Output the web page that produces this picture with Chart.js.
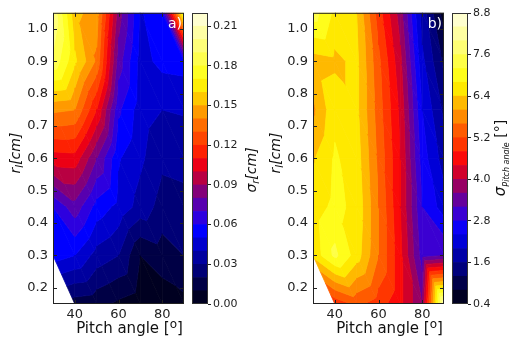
<!DOCTYPE html>
<html>
<head>
<meta charset="utf-8">
<script src="https://cdn.jsdelivr.net/npm/chart.js@4.4.0/dist/chart.umd.min.js"></script>
<style>
    html, body { margin: 0; padding: 0; background: #fff; }
    #wrap { position: relative; width: 509px; height: 337px; overflow: hidden; }
    canvas { position: absolute; top: 0; }
</style>
</head>
<body>
<div id="wrap">
    <canvas id="mapA" width="190" height="337" style="left:0px"></canvas>
    <canvas id="barA" width="75" height="337" style="left:185px"></canvas>
    <canvas id="mapB" width="190" height="337" style="left:260px"></canvas>
    <canvas id="barB" width="64" height="337" style="left:445px"></canvas>
</div>
<script>
const FONT = "'DejaVu Sans', sans-serif";

// grid nodes: pitch angle [deg] x launch radius [cm]
const pitch = [30, 40, 50, 60, 70, 80, 90];
const radius = [1.05, 0.90, 0.75, 0.60, 0.45, 0.30, 0.15];   // rows below, top to bottom

// a) sigma_r [cm]
const sigmaR = [
    [0.198, 0.153, 0.145, 0.085, 0.049, 0.056, 0.178],
    [0.188, 0.162, 0.138, 0.075, 0.046, 0.053, 0.054],
    [0.142, 0.140, 0.110, 0.062, 0.045, 0.040, 0.041],
    [0.105, 0.106, 0.080, 0.051, 0.042, 0.032, 0.033],
    [0.060, 0.076, 0.056, 0.047, 0.036, 0.026, 0.027],
    [0.055, 0.050, 0.036, 0.030, 0.010, 0.015, 0.020],
    [null, 0.015, 0.013, 0.008, 0.004, 0.004, 0.007],
];

// b) sigma_pitch [deg]
const sigmaP = [
    [7.4, 6.7, 6.4, 5.0, 3.8, 1.8, 0.6],
    [6.2, 6.3, 6.5, 5.3, 4.1, 2.1, 1.1],
    [5.9, 6.7, 6.5, 5.4, 4.3, 2.4, 1.5],
    [6.35, 6.85, 6.6, 5.5, 4.4, 2.6, 1.8],
    [6.6, 6.9, 6.7, 5.6, 4.4, 2.8, 2.2],
    [6.5, 7.3, 6.6, 5.6, 4.5, 3.0, 3.2],
    [null, 4.9, 5.3, 5.0, 4.5, 3.6, 8.4],
];

const pitchTicks = [40, 60, 80];
const radiusTicks = [0.2, 0.3, 0.4, 0.5, 0.6, 0.7, 0.8, 0.9, 1.0];

const levelsA = [0, 0.01, 0.02, 0.03, 0.04, 0.05, 0.06, 0.07, 0.08, 0.09, 0.10, 0.11,
                 0.12, 0.13, 0.14, 0.15, 0.16, 0.17, 0.18, 0.19, 0.20, 0.21, 0.22];
const levelsB = [0.4, 0.8, 1.2, 1.6, 2.0, 2.4, 2.8, 3.2, 3.6, 4.0, 4.4, 4.8,
                 5.2, 5.6, 6.0, 6.4, 6.8, 7.2, 7.6, 8.0, 8.4, 8.8];
const barTicksA = [0, 0.03, 0.06, 0.09, 0.12, 0.15, 0.18, 0.21];
const barTicksB = [0.4, 1.6, 2.8, 4.0, 5.2, 6.4, 7.6, 8.8];

// black -> blue -> red -> yellow -> white
const cmapStops = [
    [0.00, [0, 0, 15]],
    [0.07, [0, 0, 70]],
    [0.115, [0, 0, 120]],
    [0.16, [0, 0, 160]],
    [0.205, [0, 0, 205]],
    [0.25, [0, 0, 255]],
    [0.30, [50, 0, 220]],
    [0.35, [95, 0, 165]],
    [0.40, [145, 0, 105]],
    [0.445, [200, 0, 50]],
    [0.49, [250, 0, 10]],
    [0.53, [255, 40, 0]],
    [0.60, [255, 95, 0]],
    [0.645, [255, 140, 0]],
    [0.69, [255, 185, 0]],
    [0.74, [255, 235, 0]],
    [0.79, [255, 255, 30]],
    [1.00, [255, 255, 230]],
];

function cmap(t) {
    for (let i = 1; i < cmapStops.length; i++) {
        const [t1, c1] = cmapStops[i];
        if (t <= t1) {
            const [t0, c0] = cmapStops[i - 1];
            const f = (t - t0) / (t1 - t0);
            const c = c0.map((v, k) => Math.round(v + f * (c1[k] - v)));
            return `rgb(${c[0]},${c[1]},${c[2]})`;
        }
    }
    return 'rgb(255,255,230)';
}

function bandColor(k, n) {
    return cmap((k + 0.5) / n);
}

// keep the part of a polygon where sign * (v - level) >= 0
function clip(poly, level, sign) {
    const out = [];
    poly.forEach((a, m) => {
        const b = poly[(m + 1) % poly.length];
        const da = sign * (a.v - level), db = sign * (b.v - level);
        if (da >= 0) out.push(a);
        if ((da >= 0) !== (db >= 0)) {
            const t = da / (da - db);
            out.push({ x: a.x + t * (b.x - a.x), y: a.y + t * (b.y - a.y), v: level });
        }
    });
    return out;
}

function fillTriangle(ctx, tri, levels) {
    const n = levels.length - 1;
    for (let k = 0; k < n; k++) {
        const poly = clip(clip(tri, levels[k], 1), levels[k + 1], -1);
        if (poly.length < 3) continue;
        ctx.fillStyle = ctx.strokeStyle = bandColor(k, n);
        ctx.beginPath();
        poly.forEach((p, m) => m ? ctx.lineTo(p.x, p.y) : ctx.moveTo(p.x, p.y));
        ctx.closePath();
        ctx.fill();
        ctx.stroke();
    }
}

// filled contours, linear on triangles (like tricontourf)
function contourPlugin(grid, levels) {
    return {
        id: 'contour',
        beforeDatasetsDraw(chart) {
            const { ctx, chartArea: a, scales: { x, y } } = chart;
            const node = (i, j) => grid[j][i] === null ? null :
                { x: x.getPixelForValue(pitch[i]), y: y.getPixelForValue(radius[j]), v: grid[j][i] };
            ctx.save();
            ctx.beginPath();
            ctx.rect(a.left, a.top, a.width, a.height);
            ctx.clip();
            ctx.lineWidth = 0.8;
            ctx.lineJoin = 'round';
            for (let j = 0; j + 1 < radius.length; j++) {
                for (let i = 0; i + 1 < pitch.length; i++) {
                    const tl = node(i, j), tr = node(i + 1, j);
                    const bl = node(i, j + 1), br = node(i + 1, j + 1);
                    for (const tri of [[bl, br, tl], [tr, tl, br]]) {
                        if (tri.includes(null)) continue;
                        fillTriangle(ctx, tri, levels);
                    }
                }
            }
            ctx.restore();
        }
    };
}

function fontOf(p) {
    return `${p.italic ? 'italic ' : ''}${p.size}px ${FONT}`;
}

// run of text pieces (sub/superscripts via dy), centred on cx; rotated labels read bottom to top
function drawRun(ctx, cx, cy, parts, rotated) {
    ctx.save();
    ctx.translate(cx, cy);
    if (rotated) ctx.rotate(-Math.PI / 2);
    let total = 0;
    parts.forEach(p => { ctx.font = fontOf(p); p.w = ctx.measureText(p.t).width; total += p.w; });
    let xx = -total / 2;
    ctx.textBaseline = 'alphabetic';
    ctx.textAlign = 'left';
    ctx.fillStyle = '#111';
    parts.forEach(p => {
        ctx.font = fontOf(p);
        ctx.fillText(p.t, xx, (rotated ? 5 : 0) + (p.dy || 0));
        xx += p.w;
    });
    ctx.restore();
}

function framePlugin(tag) {
    return {
        id: 'frame',
        afterDraw(chart) {
            const { ctx, chartArea: a, scales: { x, y } } = chart;
            ctx.save();
            ctx.strokeStyle = '#222';
            ctx.lineWidth = 1;
            ctx.strokeRect(a.left + 0.5, a.top + 0.5, a.width - 1, a.height - 1);
            ctx.beginPath();
            pitchTicks.forEach(v => {
                const px = Math.round(x.getPixelForValue(v)) + 0.5;
                ctx.moveTo(px, a.bottom); ctx.lineTo(px, a.bottom - 4);
                ctx.moveTo(px, a.top); ctx.lineTo(px, a.top + 4);
            });
            radiusTicks.forEach(v => {
                const py = Math.round(y.getPixelForValue(v)) + 0.5;
                ctx.moveTo(a.left, py); ctx.lineTo(a.left + 4, py);
                ctx.moveTo(a.right, py); ctx.lineTo(a.right - 4, py);
            });
            ctx.stroke();

            ctx.fillStyle = '#fff';
            ctx.font = `14px ${FONT}`;
            ctx.textAlign = 'right';
            ctx.textBaseline = 'middle';
            ctx.fillText(tag, a.right - 2, a.top + 12);
            ctx.restore();

            drawRun(ctx, 15, 153, [
                { t: 'r', italic: true, size: 14 },
                { t: 'l', italic: true, size: 10, dy: 3 },
                { t: '[cm]', italic: true, size: 14 },
            ], true);
            drawRun(ctx, (a.left + a.right) / 2 + 11, 333, [
                { t: 'Pitch angle [', size: 15 },
                { t: 'o', size: 12, dy: -5 },
                { t: ']', size: 15 },
            ], false);
        }
    };
}

function mapChart(id, grid, levels, tag) {
    const pts = [];
    radius.forEach((r, j) => pitch.forEach((p, i) => {
        if (grid[j][i] !== null) pts.push({ x: p, y: r, v: grid[j][i] });
    }));
    return new Chart(document.getElementById(id), {
        type: 'scatter',
        data: { datasets: [{ data: pts, pointRadius: 0, pointHoverRadius: 0 }] },
        options: {
            responsive: false,
            animation: false,
            events: [],
            layout: { padding: { left: 0, right: 6, top: 12, bottom: 0 } },
            plugins: { legend: { display: false }, tooltip: { enabled: false } },
            scales: {
                x: {
                    type: 'linear', min: 30, max: 90,
                    grid: { display: false, drawTicks: false },
                    border: { display: false },
                    afterBuildTicks: s => { s.ticks = pitchTicks.map(v => ({ value: v })); },
                    afterFit: s => { s.height = 33; },
                    ticks: { padding: 3, color: '#222', font: { family: FONT, size: 13 }, callback: v => v },
                    title: { display: false }
                },
                y: {
                    type: 'linear', min: 0.15, max: 1.05,
                    grid: { display: false, drawTicks: false },
                    border: { display: false },
                    afterBuildTicks: s => { s.ticks = radiusTicks.map(v => ({ value: v })); },
                    afterFit: s => { s.width = 53; },
                    ticks: { padding: 5, color: '#222', font: { family: FONT, size: 13 }, callback: v => v.toFixed(1) }
                }
            }
        },
        plugins: [contourPlugin(grid, levels), framePlugin(tag)]
    });
}

function barChart(id, levels, tickVals, digits, label, lx, ly) {
    const el = document.getElementById(id);
    const n = levels.length - 1;
    const datasets = levels.slice(0, -1).map((lo, k) => ({
        data: [[lo, levels[k + 1]]],
        backgroundColor: bandColor(k, n),
        borderWidth: 0,
        barPercentage: 1,
        categoryPercentage: 1,
        grouped: false,
    }));
    return new Chart(el, {
        type: 'bar',
        data: { labels: [''], datasets },
        options: {
            responsive: false,
            animation: false,
            events: [],
            layout: { padding: { left: 7, right: 0, top: 13, bottom: 33 } },
            plugins: { legend: { display: false }, tooltip: { enabled: false } },
            scales: {
                x: { display: false },
                y: {
                    position: 'right', min: levels[0], max: levels[n],
                    grid: { drawOnChartArea: false, drawTicks: true, tickLength: 3, color: '#222' },
                    border: { display: false },
                    afterBuildTicks: s => { s.ticks = tickVals.map(v => ({ value: v })); },
                    afterFit: s => { s.width = el.width - 23; },
                    ticks: { padding: 2, color: '#222', font: { family: FONT, size: 11 }, callback: v => v.toFixed(digits) }
                }
            }
        },
        plugins: [{
            id: 'cbarFrame',
            afterDraw(chart) {
                const { ctx, chartArea: a } = chart;
                ctx.save();
                ctx.strokeStyle = '#333';
                ctx.lineWidth = 1;
                ctx.strokeRect(a.left + 0.5, a.top + 0.5, a.width - 1, a.height - 1);
                ctx.restore();
                drawRun(ctx, lx, ly, label, true);
            }
        }]
    });
}

mapChart('mapA', sigmaR, levelsA, 'a)');
mapChart('mapB', sigmaP, levelsB, 'b)');
barChart('barA', levelsA, barTicksA, 2, [
    { t: 'σ', italic: true, size: 14 },
    { t: 'r', italic: true, size: 10, dy: 3 },
    { t: '[cm]', italic: true, size: 14 },
], 66, 170);
barChart('barB', levelsB, barTicksB, 1, [
    { t: 'σ', italic: true, size: 15 },
    { t: 'Pitch angle', italic: true, size: 8, dy: 4 },
    { t: ' [°]', italic: false, size: 14 },
], 55, 158);
</script>
</body>
</html>
